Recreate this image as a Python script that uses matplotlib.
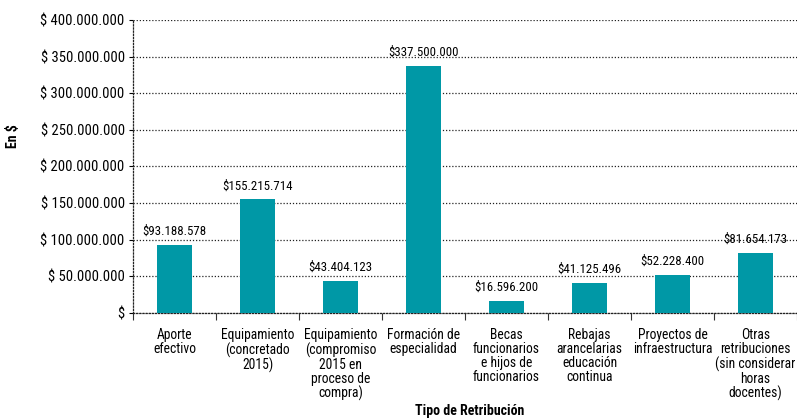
import numpy as np
import matplotlib
import matplotlib.pyplot as plt
matplotlib.use('Agg')

categorias = ["Aporte\nefectivo",
              "Equipamiento\n(concretado\n2015)",
              "Equipamiento\n(compromiso\n2015 en\nproceso de\ncompra)",
              "Formación de\nespecialidad",
              "Becas\nfuncionarios\ne hijos de\nfuncionarios",
              "Rebajas\narancelarias\neducación\ncontinua",
              "Proyectos de\ninfraestructura",
              "Otras\nretribuciones\n(sin considerar\nhoras\ndocentes)"]
montos = [93188578, 155215714, 43404123, 337500000, 16596200, 41125496, 52228400, 81654173]
yticks = [0, 50000000, 100000000, 150000000, 200000000, 250000000, 300000000, 350000000, 400000000]

plt.rcParams['font.family'] = ['Roboto Condensed', 'Archivo Narrow', 'Asap Condensed', 'DejaVu Sans']

def pesos(v):
    # formato chileno con puntos de miles
    return "$" + f"{v:,.0f}".replace(",", ".")

fig = plt.figure(figsize=(7.97, 4.2), dpi=100)
ax = fig.add_axes([0.1669, 0.2548, 0.8331, 0.6976])

x = np.arange(len(categorias))
barras = ax.bar(x, montos, width=0.42, color='#0098A6', zorder=3)
for b, v in zip(barras, montos):
    ax.annotate(pesos(v), (b.get_x() + b.get_width() / 2, v), xytext=(0, 5),
                textcoords='offset points', ha='center', va='bottom', fontsize=9.3)

ax.set_xlim(-0.5, len(categorias) - 0.5)
ax.set_ylim(0, 400000000)
ax.set_yticks(yticks)
ax.set_yticklabels(["$"] + ["$ " + f"{t:,.0f}".replace(",", ".") for t in yticks[1:]], fontsize=10.5)
ax.yaxis.grid(True, linestyle=(0, (1, 1.5)), color='#222222', linewidth=0.9, zorder=0)

ax.set_xticks(x)
ax.set_xticklabels(categorias, fontsize=9.8, linespacing=1.0)
ax.set_xticks(np.arange(len(categorias) + 1) - 0.5, minor=True)
ax.tick_params(axis='x', which='major', length=0, pad=11)
ax.tick_params(axis='x', which='minor', length=5, width=0.8, color='#333333')
ax.tick_params(axis='y', length=3, width=0.8, pad=3)

for s in ['top', 'right']:
    ax.spines[s].set_visible(False)
for s in ['left', 'bottom']:
    ax.spines[s].set_linestyle((0, (1, 1.5)))
    ax.spines[s].set_linewidth(0.9)
    ax.spines[s].set_color('#222222')

ax.set_ylabel("En $", fontsize=10, fontweight='bold')
ax.yaxis.set_label_coords(-0.17, 0.605)
ax.set_xlabel("Tipo de Retribución", fontsize=10, fontweight='bold')
ax.xaxis.set_label_coords(0.507, -0.31)

plt.savefig("out.png", dpi=100)
